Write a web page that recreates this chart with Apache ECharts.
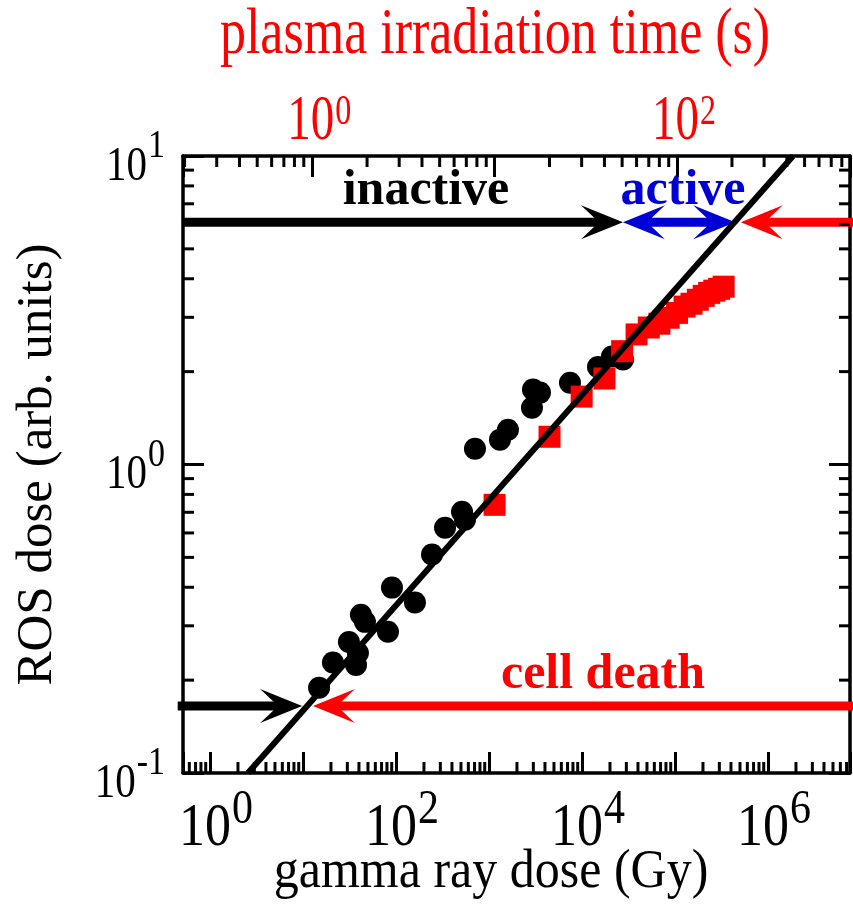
<!DOCTYPE html>
<html lang="en" style="height: 100%">

<head>
  <meta charset="utf-8">
</head>

<body style="height: 100%; margin: 0">
  <div id="container" style="width: 853px; height: 906px"></div>

  <script type="text/javascript" src="https://fastly.jsdelivr.net/npm/echarts@6.0.0/dist/echarts.min.js"></script>

  <script type="text/javascript">
    // gamma ray irradiation (black circles, bottom axis)
    var gammaDose = [14.9, 21.0, 31.2, 39.0, 37.2, 42.0, 46.4, 82, 90.6, 160, 244, 337, 513, 552,
                     707, 1313, 1600, 2900, 2970, 3535, 7430, 14860, 21000, 27600];
    var gammaROS = [0.189, 0.228, 0.266, 0.245, 0.224, 0.326, 0.309, 0.287, 0.399, 0.357, 0.511, 0.624, 0.703, 0.662,
                    1.125, 1.204, 1.297, 1.528, 1.75, 1.71, 1.84, 2.07, 2.24, 2.19];

    // plasma irradiation (red squares, top axis)
    var plasmaTime = [10, 20, 30, 40, 50, 60, 70, 80, 90, 100, 110, 120, 130, 140, 150, 160, 170, 180];
    var plasmaROS = [0.74, 1.23, 1.66, 1.90, 2.33, 2.64, 2.78, 2.86, 2.99, 3.10, 3.25, 3.32, 3.42, 3.52, 3.60, 3.66, 3.71, 3.77];

    // power law fit (end points)
    var fitDose = [2.56, 1.86e6];
    var fitROS = [0.1, 10];

    // threshold arrows: from, to, ROS level, double headed, kind
    var arrowFrom = [0.5, 2.76e4, 1e8, 0.45, 1e8];
    var arrowTo = [2.76e4, 4.45e5, 5.1e5, 9.8, 12.8];
    var arrowROS = [6.1, 6.1, 6.1, 0.165, 0.165];
    var arrowBoth = [0, 1, 0, 0, 0];
    var arrowKind = ['inactive', 'active', 'death', 'inactive', 'death'];

    // axis ranges and labelled decades
    var doseRange = [0.513, 7.62e6];
    var timeRange = [0.196, 887];
    var rosRange = [0.1, 10];
    var doseLabels = [1, 100, 1e4, 1e6];
    var timeLabels = [1, 100];
    var rosLabels = [0.1, 1, 10];

    var FONT = 'Liberation Serif';
    var RED = '#ff0000';
    var BLUE = '#0000d4';
    var kindColor = { inactive: '#000000', active: BLUE, death: RED };

    var dom = document.getElementById('container');
    var myChart = echarts.init(dom, null, { renderer: 'canvas' });

    function decade(v) {
      return Math.round(Math.log(v) / Math.LN10);
    }

    // log-style minor ticks (2..9 in each decade)
    function minorValues(range) {
      var out = [];
      for (var e = -3; e <= 8; e++) {
        for (var m = 2; m <= 9; m++) {
          var v = m * Math.pow(10, e);
          if (v > range[0] * 1.001 && v < range[1] * 0.999) out.push(v);
        }
      }
      return out;
    }

    function tickSeries(xAxisIndex, points, dx, dy) {
      return {
        type: 'custom',
        xAxisIndex: xAxisIndex,
        yAxisIndex: 0,
        silent: true,
        z: 6,
        data: points,
        renderItem: function (params, api) {
          var p = api.coord([api.value(0), api.value(1)]);
          return {
            type: 'line',
            shape: { x1: p[0], y1: p[1], x2: p[0] + dx, y2: p[1] + dy },
            style: { stroke: '#000', lineWidth: 3 }
          };
        }
      };
    }

    // 10^n tick labels, drawn a bit taller than wide like the original figure
    function labelSeries(xAxisIndex, points, cfg) {
      return {
        type: 'custom',
        xAxisIndex: xAxisIndex,
        yAxisIndex: 0,
        silent: true,
        z: 7,
        data: points,
        renderItem: function (params, api) {
          var p = api.coord([api.value(0), api.value(1)]);
          return {
            type: 'text',
            x: p[0] + cfg.dx,
            y: p[1] + cfg.dy,
            scaleY: cfg.scaleY,
            style: {
              text: '{b|10}{s|' + api.value(2) + '}',
              align: cfg.align,
              verticalAlign: 'middle',
              rich: {
                b: { font: cfg.base + 'px ' + FONT, fontFamily: FONT, fontSize: cfg.base, fill: cfg.color, color: cfg.color, padding: [cfg.padB, 0, 0, 0] },
                s: { font: cfg.sup + 'px ' + FONT, fontFamily: FONT, fontSize: cfg.sup, fill: cfg.color, color: cfg.color, padding: [0, 0, cfg.padS, 1] }
              }
            }
          };
        }
      };
    }

    function arrowHead(x, y, dir, color) {
      return {
        type: 'polygon',
        shape: {
          points: [[x, y], [x - dir * 42, y - 17], [x - dir * 24, y], [x - dir * 42, y + 17]]
        },
        style: { fill: color }
      };
    }

    function note(text, x, y, color, size, weight, scaleY) {
      return {
        type: 'text', x: x, y: y, z: 10, scaleY: scaleY || 1,
        style: {
          text: text, fill: color, fontFamily: FONT, fontSize: size, fontWeight: weight,
          textAlign: 'center', textVerticalAlign: 'middle'
        }
      };
    }

    var minorDose = minorValues(doseRange);
    var minorTime = minorValues(timeRange);
    var minorROS = minorValues(rosRange);

    var axisLine = { lineStyle: { color: '#000', width: 3.5 } };
    var majorTick = { inside: true, length: 21, lineStyle: { color: '#000', width: 3 } };

    var option = {
      animation: false,
      backgroundColor: '#fff',
      grid: { left: 183, right: 3, top: 156, bottom: 133, containLabel: false, outerBoundsMode: 'none' },
      xAxis: [
        {
          type: 'log', logBase: 10, position: 'bottom',
          min: doseRange[0], max: doseRange[1],
          axisLine: axisLine, axisTick: majorTick, splitLine: { show: false },
          axisLabel: { show: false }
        },
        {
          type: 'log', logBase: 10, position: 'top',
          min: timeRange[0], max: timeRange[1],
          axisLine: axisLine, axisTick: majorTick, splitLine: { show: false },
          axisLabel: { show: false }
        }
      ],
      yAxis: [
        {
          type: 'log', logBase: 10, position: 'left',
          min: rosRange[0], max: rosRange[1],
          axisLine: axisLine, axisTick: majorTick, splitLine: { show: false },
          axisLabel: { show: false },
          name: 'ROS dose (arb. units)', nameLocation: 'middle', nameGap: 120,
          nameTextStyle: { fontFamily: FONT, fontSize: 51, color: '#000' }
        },
        {
          type: 'log', logBase: 10, position: 'right',
          min: rosRange[0], max: rosRange[1],
          axisLine: axisLine, axisTick: majorTick, splitLine: { show: false },
          axisLabel: { show: false }
        }
      ],
      graphic: [
        note('plasma irradiation time (s)', 495, 36, RED, 52, 'normal', 1.25),
        note('gamma ray dose (Gy)', 491, 873, '#000', 50, 'normal', 1.08),
        note('inactive', 426, 191, '#000', 50, 'bold'),
        note('active', 683, 191, BLUE, 50, 'bold'),
        note('cell death', 603, 675, RED, 50, 'bold')
      ],
      series: [
        {
          type: 'scatter', xAxisIndex: 0, yAxisIndex: 0, z: 2,
          symbol: 'circle', symbolSize: 22,
          itemStyle: { color: '#000', opacity: 1 },
          data: gammaDose.map(function (d, i) { return [d, gammaROS[i]]; })
        },
        {
          type: 'scatter', xAxisIndex: 1, yAxisIndex: 0, z: 3,
          symbol: 'rect', symbolSize: 22,
          itemStyle: { color: RED, opacity: 1 },
          data: plasmaTime.map(function (t, i) { return [t, plasmaROS[i]]; })
        },
        {
          type: 'custom', xAxisIndex: 0, yAxisIndex: 0, z: 4, silent: true,
          encode: { x: [0, 1], y: 2 },
          data: arrowFrom.map(function (f, i) { return [f, arrowTo[i], arrowROS[i], arrowBoth[i]]; }),
          renderItem: function (params, api) {
            var a = api.coord([api.value(0), api.value(2)]);
            var b = api.coord([api.value(1), api.value(2)]);
            var both = api.value(3) === 1;
            var color = kindColor[arrowKind[params.dataIndex]];
            var dir = b[0] > a[0] ? 1 : -1;
            var sx = both ? a[0] + dir * 24 : a[0];
            var children = [
              { type: 'line', shape: { x1: sx, y1: a[1], x2: b[0] - dir * 24, y2: b[1] }, style: { stroke: color, lineWidth: 9 } },
              arrowHead(b[0], b[1], dir, color)
            ];
            if (both) children.push(arrowHead(a[0], a[1], -dir, color));
            return { type: 'group', children: children };
          }
        },
        {
          type: 'line', xAxisIndex: 0, yAxisIndex: 0, z: 5,
          showSymbol: false, silent: true,
          lineStyle: { color: '#000', width: 6 },
          data: fitDose.map(function (d, i) { return [d, fitROS[i]]; })
        },
        tickSeries(0, minorDose.map(function (v) { return [v, rosRange[0]]; }), 0, -11),
        tickSeries(1, minorTime.map(function (v) { return [v, rosRange[1]]; }), 0, 11),
        tickSeries(0, minorROS.map(function (v) { return [doseRange[0], v]; }), 11, 0),
        tickSeries(0, minorROS.map(function (v) { return [doseRange[1], v]; }), -11, 0),
        labelSeries(0, doseLabels.map(function (v) { return [v, rosRange[0], decade(v)]; }),
          { dx: 6, dy: 50, scaleY: 1.17, align: 'center', base: 52, sup: 42, padB: 10, padS: 22, color: '#000' }),
        labelSeries(1, timeLabels.map(function (v) { return [v, rosRange[1], decade(v)]; }),
          { dx: 7, dy: -38, scaleY: 1.35, align: 'center', base: 47, sup: 32, padB: 7, padS: 8, color: RED }),
        labelSeries(0, rosLabels.map(function (v) { return [doseRange[0], v, decade(v)]; }),
          { dx: -18, dy: 5, scaleY: 1.2, align: 'right', base: 41, sup: 34, padB: 10, padS: 24, color: '#000' })
      ]
    };

    myChart.setOption(option);
    window.addEventListener('resize', myChart.resize);
  </script>
</body>

</html>
